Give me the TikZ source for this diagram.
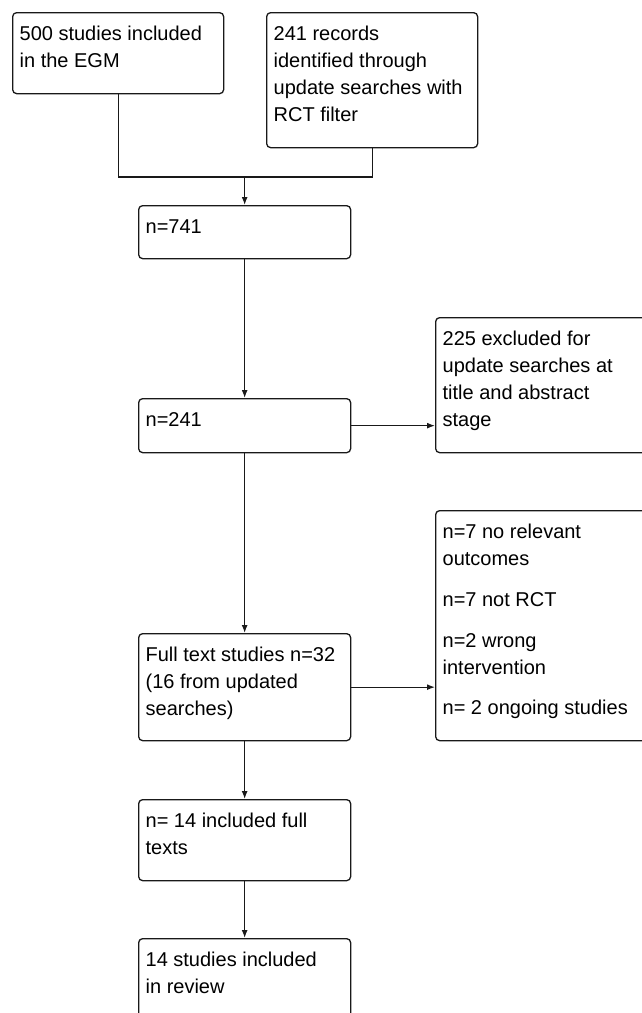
\documentclass[tikz,border=0pt]{standalone}
\usepackage{fontspec}
\setmainfont{Liberation Sans}
\usetikzlibrary{arrows.meta,positioning}
\definecolor{linecolor}{RGB}{25,25,25}
\newcommand{\boxtxt}[3]{\parbox[t][#2][t]{#1}{\raggedright\strut #3}}

\begin{document}
\begin{tikzpicture}[x=1pt, y=-1pt,
    font=\fontsize{20}{27}\selectfont,
    flowbox/.style={rectangle, draw=linecolor, line width=1.3pt, rounded corners=4pt, anchor=north west, inner xsep=7pt, inner ysep=9pt},
    link/.style={draw=linecolor, line width=1.3pt},
    arrow/.style={->, draw=linecolor, line width=1.3pt, >={Latex[length=8pt,width=6pt]}}
]
    \useasboundingbox (0,0) rectangle (642,1013);
    \clip (0,0) rectangle (642,1013);

    % Sources
    \node[flowbox] (egm) at (12,12) {\boxtxt{197pt}{63pt}{500 studies included\\in the EGM}};
    \node[flowbox] (search) at (266,12) {\boxtxt{197pt}{117pt}{241 records\\identified through\\update searches with\\RCT filter}};

    % Main column
    \node[flowbox] (all) at (138,205) {\boxtxt{198pt}{35pt}{n=741}};
    \node[flowbox] (screen) at (138,398) {\boxtxt{198pt}{36pt}{n=241}};
    \node[flowbox] (full) at (138,633) {\boxtxt{198pt}{89pt}{Full text studies n=32\\(16 from updated\\searches)}};
    \node[flowbox] (incl) at (138,799) {\boxtxt{198pt}{63pt}{n= 14 included full\\texts}};
    \node[flowbox] (final) at (138,938) {\boxtxt{198pt}{84pt}{14 studies included\\in review}};

    % Exclusions
    \node[flowbox] (excltitle) at (435,317) {\boxtxt{211pt}{117pt}{225 excluded for\\update searches at\\title and abstract\\stage}};
    \node[flowbox] (exclfull) at (435,510) {\boxtxt{211pt}{212pt}{n=7 no relevant\\outcomes\\[14pt]n=7 not RCT\\[14pt]n=2 wrong\\intervention\\[13pt]n= 2 ongoing studies}};

    % Arrows
    \coordinate[above=28pt of all] (join);
    \draw[link] (egm.south) |- (join) -| (search.south);
    \draw[arrow] (join) -- (all);
    \draw[arrow] (all) -- (screen);
    \draw[arrow] (screen) -- (full);
    \draw[arrow] (full) -- (incl);
    \draw[arrow] (incl) -- (final);
    \draw[arrow] (screen.east) -- (screen.east -| excltitle.west);
    \draw[arrow] (full.east) -- (full.east -| exclfull.west);
\end{tikzpicture}
\end{document}
